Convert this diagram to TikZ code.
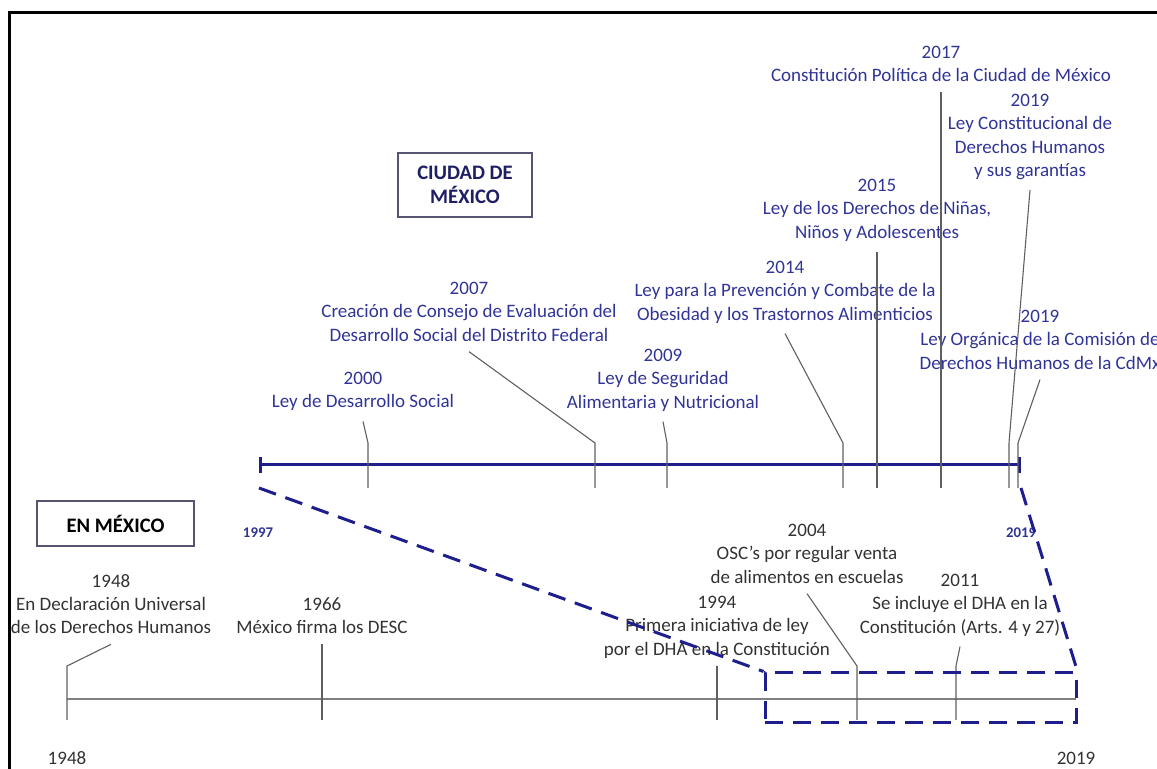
\documentclass[tikz,border=0pt]{standalone}
\usepackage{fontspec}
\setmainfont{Carlito}
\usetikzlibrary{arrows.meta}

\definecolor{cdmxblue}{RGB}{48,52,150}
\definecolor{lineblue}{RGB}{30,30,140}
\definecolor{navy}{RGB}{30,30,100}
\definecolor{textgray}{RGB}{50,50,50}
\definecolor{leadgray}{RGB}{95,95,95}
\definecolor{axisgray}{RGB}{128,128,128}
\definecolor{boxline}{RGB}{85,85,115}

\begin{document}
\begin{tikzpicture}[x=0.5pt,y=-0.5pt,
  cdmx label/.style={align=center,anchor=north,text=cdmxblue,
    font=\fontsize{9.5}{11.6}\selectfont,inner xsep=0pt,inner ysep=5pt},
  mex label/.style={cdmx label,text=textgray},
  leader/.style={draw=leadgray,line width=0.55pt},
  title box/.style={draw=boxline,line width=0.7pt,align=center,inner sep=0pt,
    font=\bfseries\fontsize{10.3}{12.2}\selectfont},
  year tag/.style={text=cdmxblue,font=\bfseries\fontsize{7.4}{9}\selectfont,inner sep=0pt},
  zoom line/.style={draw=lineblue,line width=1.5pt,dash pattern=on 9pt off 5pt}]

  \useasboundingbox (0,0) rectangle (1157,769);
  \draw[line width=1.5pt] (9.5,769) -- (9.5,12.5) -- (1157,12.5);

  % titles
  \node[title box,text=navy,minimum width=67pt,minimum height=32pt] (cdmx) at (465,185) {CIUDAD DE\\MÉXICO};
  \node[title box,text=black,minimum width=78.5pt,minimum height=22.5pt] (mex) at (115.5,523.5) {EN MÉXICO};

  % Ciudad de Mexico timeline
  \coordinate (c1997) at (259,465);
  \coordinate (c2019) at (1021,465);
  \draw[lineblue,line width=1.5pt,{Bar[width=8pt]}-{Bar[width=8pt]}] (c1997) -- (c2019);
  \node[year tag] (y1997) at (258,533) {1997};
  \node[year tag] (y2019) at (1021,533) {2019};

  \foreach \n/\x in {2000/368,2007/595,2009/667,2014/843,2015/877,2017/941,2019a/1009,2019b/1018}
  {
    \coordinate (k\n) at (\x,443);
    \coordinate (t\n) at (\x,488);
  }

  \node[cdmx label] (e2017) at (941,36) {2017\\Constitución Política de la Ciudad de México};
  \node[cdmx label] (e2019a) at (1030,84) {2019\\Ley Constitucional de\\Derechos Humanos\\y sus garantías};
  \node[cdmx label] (e2015) at (877,169) {2015\\Ley de los Derechos de Niñas,\\Niños y Adolescentes};
  \node[cdmx label] (e2014) at (785,251) {2014\\Ley para la Prevención y Combate de la\\Obesidad y los Trastornos Alimenticios};
  \node[cdmx label] (e2007) at (469,272) {2007\\Creación de Consejo de Evaluación del\\Desarrollo Social del Distrito Federal};
  \node[cdmx label] (e2019b) at (1040,300) {2019\\Ley Orgánica de la Comisión de\\Derechos Humanos de la CdMx};
  \node[cdmx label] (e2009) at (663,339) {2009\\Ley de Seguridad\\Alimentaria y Nutricional};
  \node[cdmx label] (e2000) at (363,362) {2000\\Ley de Desarrollo Social};

  \foreach \n in {2000,2007,2009,2014,2015,2017,2019a,2019b}
    \draw[leader] (e\n.south) -- (k\n) -- (t\n);

  % Mexico timeline
  \coordinate (m1948) at (67,699);
  \coordinate (m2019) at (1076,699);
  \draw[axisgray,line width=0.9pt] (m1948) -- (m2019);
  \node[mex label,anchor=center,inner ysep=0pt] (b1948) at (67,758) {1948};
  \node[mex label,anchor=center,inner ysep=0pt] (b2019) at (1076,758) {2019};

  \foreach \n/\x in {1948/67,1966/322,1994/717,2004/857,2011/956}
  {
    \coordinate (k\n) at (\x,666);
    \coordinate (t\n) at (\x,720);
  }

  \node[mex label] (e1948) at (111,564) {1948\\En Declaración Universal\\de los Derechos Humanos};
  \node[mex label] (e1966) at (322,587) {1966\\México firma los DESC};
  \node[mex label] (e1994) at (717,586) {1994\\Primera iniciativa de ley\\por el DHA en la Constitución};
  \node[mex label] (e2004) at (807,514) {2004\\OSC’s por regular venta\\de alimentos en escuelas};
  \node[mex label] (e2011) at (960,564) {2011\\Se incluye el DHA en la\\Constitución (Arts. 4 y 27)};

  \foreach \n in {1948,1966,1994,2004,2011}
    \draw[leader] (e\n.south) -- (k\n) -- (t\n);

  % zoom
  \node[zoom line,minimum width=155.5pt,minimum height=25pt,inner sep=0pt] (zoomb) at (920.5,698) {};
  \coordinate (d1997) at (259,488);
  \coordinate (d2019) at (1021,488);
  \draw[zoom line] (d1997) -- (zoomb.north west);
  \draw[zoom line] (d2019) -- (zoomb.north east);
\end{tikzpicture}
\end{document}
